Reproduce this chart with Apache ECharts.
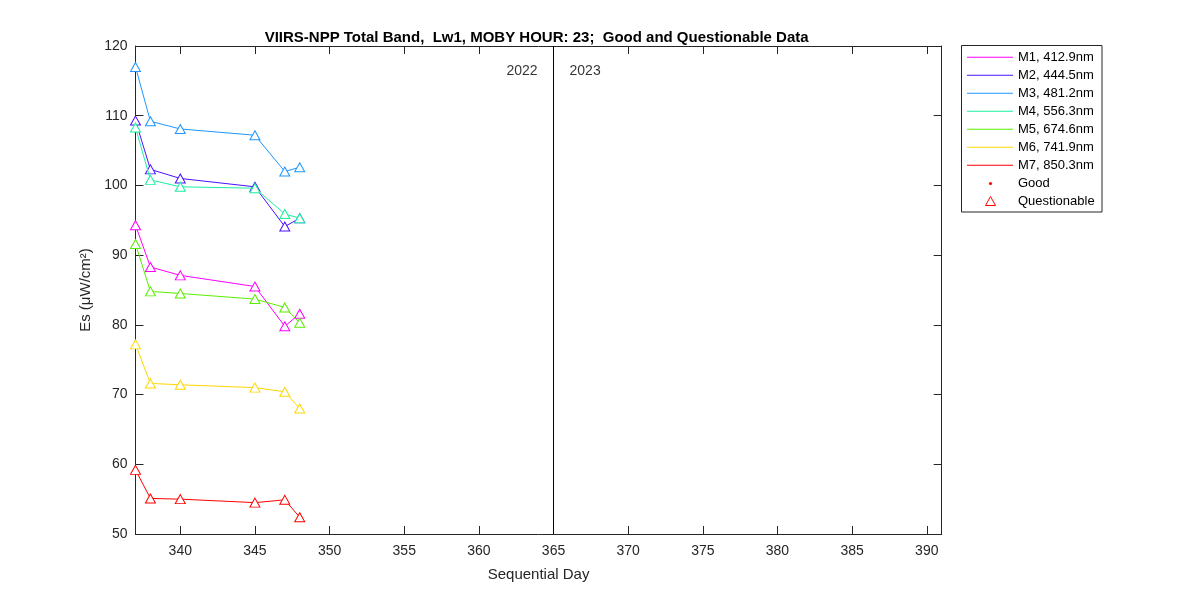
<!DOCTYPE html>
<html>
<head>
<meta charset="utf-8">
<script src="https://cdn.jsdelivr.net/npm/echarts@6/dist/echarts.min.js"></script>
<style>html,body{margin:0;padding:0;background:#fff}#c{width:1200px;height:600px}</style>
</head>
<body>
<div id="c"></div>
<script>
// ---- data ----
const days = [337, 338, 340, 345, 347, 348];
const bandNames = ['M1, 412.9nm', 'M2, 444.5nm', 'M3, 481.2nm', 'M4, 556.3nm', 'M5, 674.6nm', 'M6, 741.9nm', 'M7, 850.3nm'];
const bandColors = ['#FF00FF', '#4B10FF', '#1E96FF', '#19F0A0', '#5AEE00', '#FFD700', '#FF0000'];
const M1 = [94.3, 88.3, 87.1, 85.5, 79.8, 81.6];
const M2 = [109.3, 102.3, 101.0, 99.8, 94.1, 95.3];
const M3 = [117.0, 109.2, 108.1, 107.2, 102.0, 102.6];
const M4 = [108.3, 100.8, 99.8, 99.6, 95.9, 95.3];
const M5 = [91.6, 84.8, 84.5, 83.7, 82.5, 80.3];
const M6 = [77.2, 71.6, 71.4, 71.0, 70.4, 68.0];
const M7 = [59.2, 55.1, 55.0, 54.5, 54.9, 52.4];
const bandValues = [M1, M2, M3, M4, M5, M6, M7];
const xTicks = [340, 345, 350, 355, 360, 365, 370, 375, 380, 385, 390];
const yTicks = [50, 60, 70, 80, 90, 100, 110, 120];
const yearBoundary = 365;
const yearLabels = ['2022', '2023'];
const qualityLabels = ['Good', 'Questionable'];
const titleText = 'VIIRS-NPP Total Band,  Lw1, MOBY HOUR: 23;  Good and Questionable Data';

// ---- chart ----
const chart = echarts.init(document.getElementById('c'), null, {renderer: 'canvas'});
const axisCol = '#262626';
const font = 'Arial, "Liberation Sans", Helvetica, sans-serif';

const series = bandValues.map((vals, i) => ({
  name: bandNames[i],
  type: 'line',
  data: days.map((d, j) => [d, vals[j]]),
  symbol: 'triangle',
  symbolSize: [10, 9],
  showAllSymbol: true,
  lineStyle: {width: 1, color: bandColors[i]},
  itemStyle: {color: '#fff', borderColor: bandColors[i], borderWidth: 1},
  z: 3 + i,
  silent: true,
  animation: false
}));

series.push({
  type: 'line',
  data: [[yearBoundary, 50], [yearBoundary, 120]],
  symbol: 'none',
  lineStyle: {color: '#000', width: 1},
  silent: true,
  animation: false,
  z: 2
});
series.push({
  type: 'scatter',
  symbolSize: 0,
  silent: true,
  animation: false,
  data: [
    {value: [yearBoundary, 116.4], label: {show: true, formatter: yearLabels[0], position: 'left', distance: 16}},
    {value: [yearBoundary, 116.4], label: {show: true, formatter: yearLabels[1], position: 'right', distance: 16}}
  ],
  label: {color: '#000', fontSize: 14, fontFamily: font}
});

// legend box + quality entries via graphic
const lgX = 961, lgY = 46, rowH = 18, firstRow = 57.3;
const lgEls = [{
  type: 'rect', shape: {x: lgX + 0.5, y: lgY - 0.5, width: 140.5, height: 166.5},
  style: {fill: '#fff', stroke: axisCol, lineWidth: 1}, z: 1, zlevel: 0
}];
{
  const yG = Math.round(firstRow + 7 * rowH) + 0.5;
  lgEls.push({type: 'circle', shape: {cx: 990.5, cy: yG, r: 1.6}, style: {fill: '#FF0000'}, z: 101});
  lgEls.push({type: 'text', x: 1018, y: yG, style: {text: qualityLabels[0], fill: '#000', font: '13px ' + font, verticalAlign: 'middle'}, z: 101});
  const yQ = Math.round(firstRow + 8 * rowH) + 0.5;
  lgEls.push({type: 'polygon', shape: {points: [[990.5, yQ - 5], [985.5, yQ + 4], [995.5, yQ + 4]]}, style: {fill: '#fff', stroke: '#FF0000', lineWidth: 1}, z: 101});
  lgEls.push({type: 'text', x: 1018, y: yQ, style: {text: qualityLabels[1], fill: '#000', font: '13px ' + font, verticalAlign: 'middle'}, z: 101});
}

const commonX = {
  type: 'value', min: 337, max: 391,
  axisLine: {show: true, onZero: false, lineStyle: {color: axisCol, width: 1}},
  axisTick: {show: true, inside: true, length: 8, customValues: xTicks, lineStyle: {color: axisCol}},
  splitLine: {show: false}
};
const commonY = {
  type: 'value', min: 50, max: 120, interval: 10,
  axisLine: {show: true, onZero: false, lineStyle: {color: axisCol, width: 1}},
  axisTick: {show: true, inside: true, length: 8, lineStyle: {color: axisCol}},
  splitLine: {show: false}
};

chart.setOption({
  backgroundColor: '#fff',
  animation: false,
  title: {
    text: titleText, left: 531.6, top: 25, textAlign: 'center',
    textStyle: {fontSize: 15, fontWeight: 'bold', color: '#000', fontFamily: font}
  },
  legend: {
    orient: 'vertical', left: 967, top: firstRow - 9, padding: 0,
    itemWidth: 46, itemHeight: 1, itemGap: 0, selectedMode: false,
    data: bandNames.map((n, i) => ({name: n, icon: 'rect', itemStyle: {color: bandColors[i], borderWidth: 0}})),
    textStyle: {fontSize: 13, color: '#000', fontFamily: font, lineHeight: rowH, height: rowH, padding: 0},
    z: 50
  },
  grid: {left: 135.5, right: 258.3, top: 46, bottom: 66, containLabel: false},
  xAxis: [
    Object.assign({}, commonX, {
      position: 'bottom', name: 'Sequential Day', nameLocation: 'middle', nameGap: 33,
      nameTextStyle: {fontSize: 15, color: axisCol, fontFamily: font},
      axisLabel: {show: true, customValues: xTicks, fontSize: 14, color: axisCol, fontFamily: font, margin: 10}
    }),
    Object.assign({}, commonX, {position: 'top', axisLabel: {show: false}})
  ],
  yAxis: [
    Object.assign({}, commonY, {
      position: 'left', name: 'Es (μW/cm²)', nameLocation: 'middle', nameGap: 36, nameRotate: 90,
      nameTextStyle: {fontSize: 15, color: axisCol, fontFamily: font},
      axisLabel: {show: true, fontSize: 14, color: axisCol, fontFamily: font, margin: 8}
    }),
    Object.assign({}, commonY, {position: 'right', axisLabel: {show: false}})
  ],
  series: series,
  graphic: lgEls
});
</script>
</body>
</html>
